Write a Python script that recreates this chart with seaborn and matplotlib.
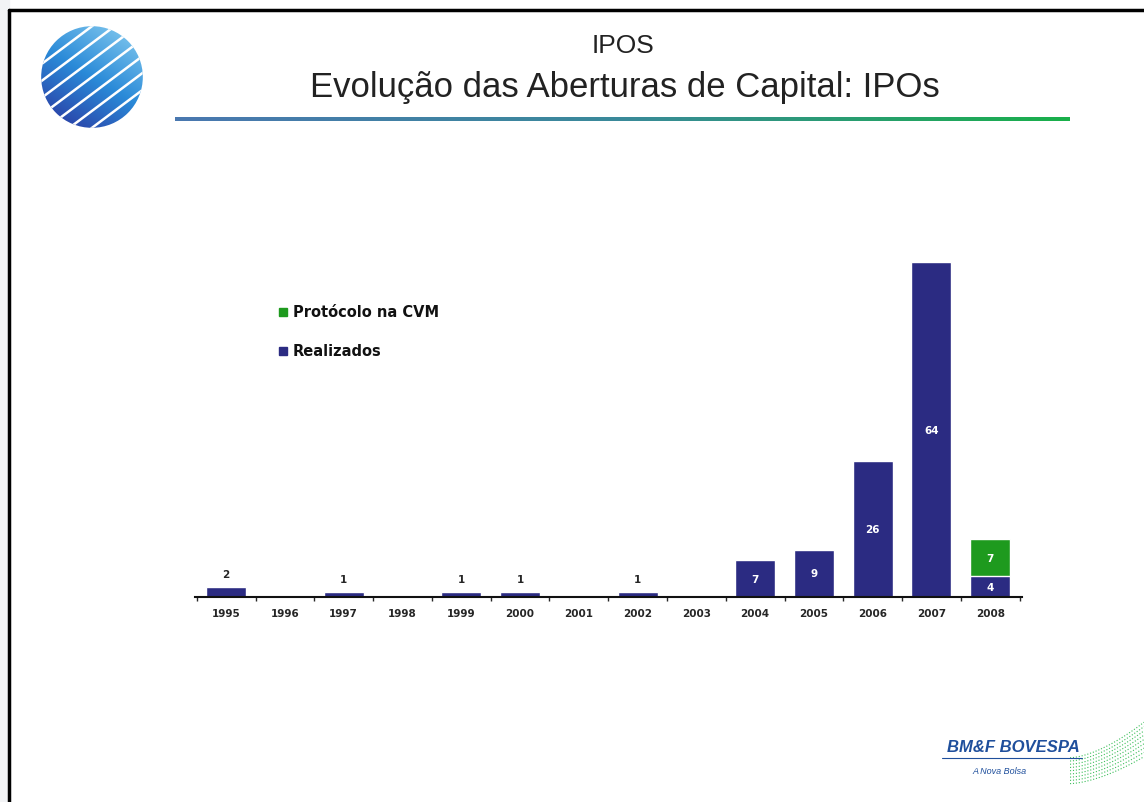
import numpy as np
import pandas as pd
import matplotlib
matplotlib.use("Agg")
import matplotlib.pyplot as plt
import seaborn as sns
from matplotlib.colors import LinearSegmentedColormap
from matplotlib.patches import Circle, Rectangle

# data
years = ["1995", "1996", "1997", "1998", "1999", "2000", "2001",
         "2002", "2003", "2004", "2005", "2006", "2007", "2008"]
realizados = [2, 0, 1, 0, 1, 1, 0, 1, 0, 7, 9, 26, 64, 4]
protocolo = [0, 0, 0, 0, 0, 0, 0, 0, 0, 0, 0, 0, 0, 7]

BLUE = "#2b2b82"
GREEN = "#1e9a1e"

df = pd.DataFrame({"Ano": years, "Realizados": realizados, "Protocolo": protocolo})
df["Total"] = df["Realizados"] + df["Protocolo"]

sns.set_theme(style="white")
plt.rcParams["font.family"] = ["Liberation Sans", "DejaVu Sans"]

fig = plt.figure(figsize=(11.44, 8.03), dpi=100)
W, H = 1144, 803

def fx(px):
    return px / W

def fy(py):
    return 1 - py / H

# slide frame
fig.patches.append(Rectangle((0, 0), fx(9), 1, transform=fig.transFigure,
                             color="#f2f3f5", zorder=0))
fig.add_artist(plt.Line2D([fx(9), fx(9)], [0, fy(11)], color="black", lw=2.5,
                          transform=fig.transFigure))
fig.add_artist(plt.Line2D([fx(9), 1], [fy(11), fy(11)], color="black", lw=2.5,
                          transform=fig.transFigure))

# titles
fig.text(fx(623), fy(46), "IPOS", ha="center", va="center", fontsize=19, color="#222222")
fig.text(fx(625), fy(88), "Evolução das Aberturas de Capital: IPOs", ha="center",
         va="center", fontsize=25, color="#222222")

# gradient rule under title
gax = fig.add_axes([fx(175), fy(122), fx(1070) - fx(175), 4 / H])
grad = LinearSegmentedColormap.from_list("rule", ["#4a78b0", "#3a8a9a", "#19b04a"])
gax.imshow(np.linspace(0, 1, 256)[None, :], aspect="auto", cmap=grad)
gax.axis("off")

# sphere logo
lax = fig.add_axes([fx(38), fy(132), 108 / W, 108 / H])
shade = LinearSegmentedColormap.from_list("sph", ["#2a2e9a", "#2a8ad8", "#8fd2f2"])
yy, xx = np.mgrid[-1:1:200j, -1:1:200j]
im = lax.imshow(xx * 0.6 + yy, extent=[-1, 1, -1, 1], origin="lower", cmap=shade)
clip = Circle((0, 0), 0.96, transform=lax.transData)
im.set_clip_path(clip)
for off in np.linspace(-1.6, 1.6, 11):
    t = np.linspace(-1.2, 1.2, 50)
    ln, = lax.plot(t, 0.75 * t + off, color="white", lw=1.8)
    ln.set_clip_path(Circle((0, 0), 0.96, transform=lax.transData))
lax.set_xlim(-1.02, 1.02)
lax.set_ylim(-1.02, 1.02)
lax.set_aspect("equal")
lax.axis("off")

# bar chart
ax = fig.add_axes([fx(195), fy(598), fx(1022) - fx(195), 366 / H])
sns.barplot(data=df, x="Ano", y="Total", color=GREEN, width=0.68, saturation=1, ax=ax)
sns.barplot(data=df, x="Ano", y="Realizados", color=BLUE, width=0.68, saturation=1, ax=ax)
ax.set_xlim(-0.53, 13.54)
ax.set_ylim(0, 70)
ax.set_xlabel("")
ax.set_ylabel("")
ax.set_yticks([])
for s in ["top", "right", "left"]:
    ax.spines[s].set_visible(False)
ax.spines["bottom"].set_color("#111111")
ax.spines["bottom"].set_linewidth(1.5)
ax.set_xticks(range(len(years)))
ax.set_xticklabels(years, fontsize=7.5, fontweight="bold", family="DejaVu Sans")
ax.set_xticks(np.arange(-0.5, len(years), 1), minor=True)
ax.tick_params(axis="x", which="major", length=0, pad=8)
ax.tick_params(axis="x", which="minor", length=3, width=1, direction="out", bottom=True)

lbl = dict(ha="center", va="center", fontsize=7.5, fontweight="bold", family="DejaVu Sans")
for i, (r, p) in enumerate(zip(realizados, protocolo)):
    if r == 0:
        continue
    if r >= 4:
        ax.text(i, r / 2, str(r), color="white", **lbl)
    else:
        ax.annotate(str(r), (i, r), xytext=(0, 9), textcoords="offset points", **lbl)
    if p > 0:
        ax.text(i, r + p / 2, str(p), color="white", **lbl)

# legend
for lab, col, py in [("Protócolo na CVM", GREEN, 313), ("Realizados", BLUE, 352)]:
    fig.patches.append(Rectangle((fx(279), fy(py) - 3.5 / H), 8 / W, 8 / H,
                                 transform=fig.transFigure, color=col))
    fig.text(fx(293), fy(py), lab, ha="left", va="center", fontsize=10.5,
             fontweight="bold", color="#111111", family="DejaVu Sans")

# BM&F BOVESPA logo
fig.text(fx(1080), fy(748), "BM&F BOVESPA", ha="right", va="center", fontsize=12,
         fontweight="bold", fontstyle="italic", color="#1f4f9c")
fig.add_artist(plt.Line2D([fx(942), fx(1082)], [fy(759), fy(759)], color="#1f4f9c",
                          lw=0.8, transform=fig.transFigure))
fig.text(fx(1000), fy(772), "A Nova Bolsa", ha="center", va="center", fontsize=6.5,
         fontstyle="italic", color="#1f4f9c")
wax = fig.add_axes([fx(1070), fy(790), 74 / W, 70 / H])
wax.axis("off")
for k in range(9):
    t = np.linspace(0, 1, 30)
    wax.plot(t, 0.1 + 0.06 * k + t ** 1.6 * (0.5 + 0.02 * k), color="#3cbf5a",
             lw=0.8, ls=":")
wax.set_xlim(0, 1)
wax.set_ylim(0, 1.3)

fig.savefig("out.png", dpi=100)
